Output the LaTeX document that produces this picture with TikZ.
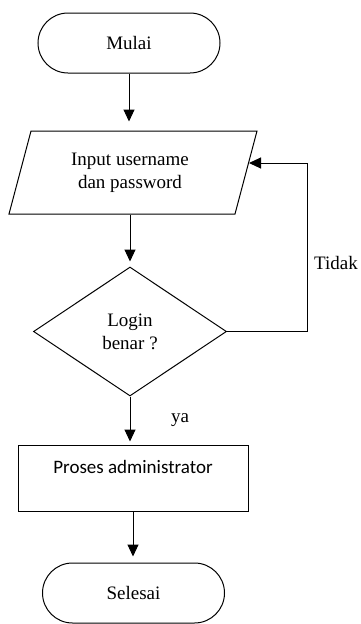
\documentclass[tikz,border=0pt]{standalone}
\usepackage{fontspec}
\setmainfont{Liberation Serif}
\newfontfamily\calfont{Carlito}
\usetikzlibrary{arrows.meta,shapes.geometric}
\begin{document}
\begin{tikzpicture}[x=1pt,y=1pt,
  line width=1pt,
  font=\fontsize{19}{23}\selectfont,
  term/.style={draw, rounded corners=30pt, minimum width=182pt, minimum height=60pt, inner sep=0pt},
  decision/.style={draw, diamond, minimum width=193pt, minimum height=129pt, inner sep=0pt, align=center},
  procbox/.style={draw, minimum width=230pt, minimum height=66pt, inner sep=0pt, align=center},
  conn/.style={-{Triangle[length=12pt,width=11pt]}},
  lbl/.style={inner sep=0pt}
]
\useasboundingbox (0,0) rectangle (360,-624);
\node[term] (start) at (129,-43) {Mulai};
\draw (31,-131) -- (257,-131) -- (235,-214) -- (9,-214) -- cycle;
\node[align=center, minimum height=83pt, inner sep=0pt] (inp) at (130,-172.5) {Input username\\dan password};
\coordinate (inpR) at (249,-163);
\node[decision] (dec) at (130,-331.5) {Login\\benar ?};
\node[procbox] (proc) at (133,-478) {\calfont Proses administrator\\ \mbox{}};
\node[term] (stop) at (133.5,-593) {Selesai};
\coordinate (loopx) at (307,0);

\draw[conn, shorten >=9pt] (start.south) -- (start.south |- inp.north);
\draw[conn, shorten >=5pt] (inp.south) -- (inp.south |- dec.north);
\draw[conn, shorten >=3pt] (dec.south) -- (dec.south |- proc.north);
\draw[conn, shorten >=6pt] (proc.south) -- (proc.south |- stop.north);
\draw[conn] (dec.east) -- (dec.east -| loopx) |- (inpR);

\node[lbl] (tidak) at (336,-263) {Tidak};
\node[lbl] (ya) at (180,-420) {ya};
\end{tikzpicture}
\end{document}
